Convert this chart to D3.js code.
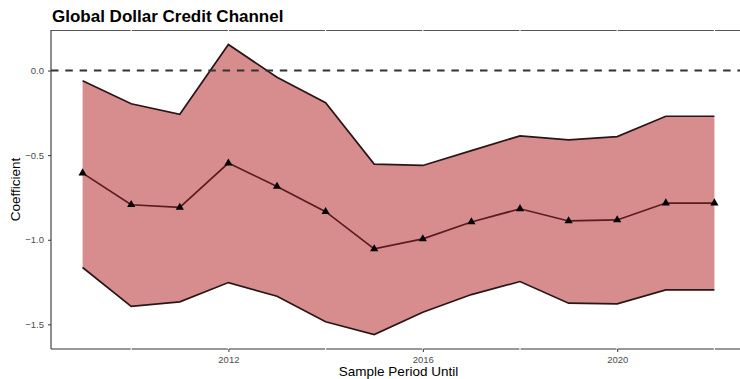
<!DOCTYPE html>
<html><head><meta charset="utf-8">
<script src="https://cdn.jsdelivr.net/npm/d3@7"></script>
<style>body{margin:0;background:#fff}svg{display:block}text{font-family:"Liberation Sans",Arial,sans-serif}</style>
</head><body>
<svg id="c" width="740" height="379"></svg>
<script>
const years = [2009,2010,2011,2012,2013,2014,2015,2016,2017,2018,2019,2020,2021,2022];
const coef  = [-0.606,-0.793,-0.809,-0.547,-0.685,-0.834,-1.054,-0.995,-0.895,-0.817,-0.889,-0.883,-0.783,-0.783];
const upper = [-0.060,-0.196,-0.258,0.154,-0.040,-0.190,-0.553,-0.561,-0.473,-0.386,-0.410,-0.390,-0.270,-0.270];
const lower = [-1.164,-1.394,-1.367,-1.253,-1.334,-1.485,-1.560,-1.428,-1.324,-1.247,-1.375,-1.379,-1.296,-1.296];
const xMajor = [2012,2016,2020];
const xMinor = [2010,2014,2018,2022];
const yTicks = [0,-0.5,-1.0,-1.5];

const data = years.map((y,i)=>({year:y,coef:coef[i],lo:lower[i],hi:upper[i]}));
const svg = d3.select("#c");
const L=51, R=746, T=30, B=349;
const xr = d3.extent(years), xpad=(xr[1]-xr[0])*0.05;
const x = d3.scaleLinear().domain([xr[0]-xpad, xr[1]+xpad]).range([L,R]);
const ymin=d3.min(lower), ymax=d3.max(upper), ypad=(ymax-ymin)*0.05;
const y = d3.scaleLinear().domain([ymin-ypad, ymax+ypad]).range([B,T]);

// top border and bottom axis line
svg.append("line").attr("x1",L).attr("x2",R).attr("y1",T+0.5).attr("y2",T+0.5).attr("stroke","#555").attr("stroke-width",1);
svg.append("line").attr("x1",L).attr("x2",R).attr("y1",B).attr("y2",B).attr("stroke","#333").attr("stroke-width",1.1);
// white grid lines (cut through frame lines)
svg.append("g").selectAll("line").data(xMajor.concat(xMinor)).join("line")
  .attr("x1",d=>x(d)).attr("x2",d=>x(d)).attr("y1",T-1).attr("y2",B+1)
  .attr("stroke","#fff").attr("stroke-width",1.2);
// major ticks on bottom
const xAxis = svg.append("g").attr("transform",`translate(0,${B})`)
  .call(d3.axisBottom(x).tickValues(xMajor).tickFormat(d3.format("d")).tickSize(3).tickPadding(4));
xAxis.select(".domain").remove();
xAxis.selectAll("line").attr("stroke","#333");
xAxis.selectAll("text").attr("fill","#4d4d4d").style("font-size","9.5px");

// ribbon
svg.append("path").datum(data)
  .attr("d",d3.area().x(d=>x(d.year)).y0(d=>y(d.lo)).y1(d=>y(d.hi)))
  .attr("fill","#d78c8e");
// bounds
const lineHi = d3.line().x(d=>x(d.year)).y(d=>y(d.hi));
const lineLo = d3.line().x(d=>x(d.year)).y(d=>y(d.lo));
svg.append("path").datum(data).attr("d",lineHi).attr("fill","none").attr("stroke","#2a1616").attr("stroke-width",1.7);
svg.append("path").datum(data).attr("d",lineLo).attr("fill","none").attr("stroke","#2a1616").attr("stroke-width",1.7);
// zero dashed line
svg.append("line").attr("x1",L).attr("x2",R).attr("y1",y(0)).attr("y2",y(0))
  .attr("stroke","#333").attr("stroke-width",1.9).attr("stroke-dasharray","7.5,6.8");
// mean line
svg.append("path").datum(data).attr("d",d3.line().x(d=>x(d.year)).y(d=>y(d.coef)))
  .attr("fill","none").attr("stroke","#5a1c1c").attr("stroke-width",1.7);
svg.append("g").selectAll("path").data(data).join("path")
  .attr("transform",d=>`translate(${x(d.year)},${y(d.coef)})`)
  .attr("d",d3.symbol(d3.symbolTriangle,29)).attr("fill","#000");

// y axis
const yAxis = svg.append("g").attr("transform",`translate(${L},0)`)
  .call(d3.axisLeft(y).tickValues(yTicks).tickFormat(d=>d.toFixed(1).replace("-","\u2212")).tickSize(3).tickPadding(4));
yAxis.select(".domain").attr("d",`M0,${T}V${B}`).attr("stroke","#333").attr("stroke-width",1.1);
yAxis.selectAll("line").attr("stroke","#333");
yAxis.selectAll("text").attr("fill","#4d4d4d").style("font-size","9.5px");

// titles
svg.append("text").attr("x",52).attr("y",22).text("Global Dollar Credit Channel")
  .style("font-size","17px").style("font-weight","bold").attr("fill","#000");
svg.append("text").attr("x",(L+R)/2).attr("y",376).attr("text-anchor","middle")
  .text("Sample Period Until").style("font-size","13.5px").attr("fill","#000");
svg.append("text").attr("transform",`translate(19.5,${(T+B)/2}) rotate(-90)`).attr("text-anchor","middle")
  .text("Coefficient").style("font-size","13.5px").attr("fill","#000");
</script>
</body></html>
